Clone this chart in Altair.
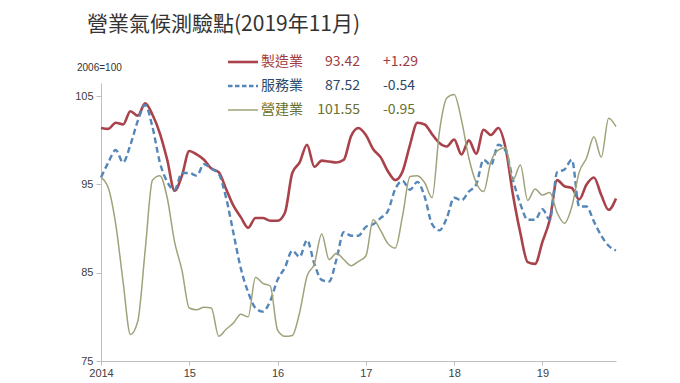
import altair as alt
import pandas as pd

# ---------------- data ----------------
month_index = list(range(71))  # Jan 2014 .. Nov 2019
manufacturing = [101.4, 101.3, 102.0, 101.8, 103.3, 102.8, 104.2, 102.9, 100.8, 97.8,
                 94.3, 96.0, 98.8, 98.4, 97.8, 96.8, 96.4, 94.5, 92.6, 91.3,
                 90.1, 91.2, 91.2, 90.9, 90.9, 91.8, 96.3, 97.5, 99.5, 97.0,
                 97.7, 97.6, 97.5, 97.8, 100.5, 101.4, 100.6, 99.0, 98.1, 96.5,
                 95.5, 96.5, 99.5, 102.0, 101.8, 100.7, 99.7, 99.3, 100.1, 98.4,
                 100.0, 98.5, 101.2, 100.6, 101.4, 99.1, 93.8, 89.5, 86.2, 86.0,
                 88.5, 91.0, 95.5, 94.8, 94.6, 93.3, 95.0, 95.8, 93.8, 92.13, 93.42]
services = [95.8, 97.5, 98.9, 97.5, 99.5, 102.2, 104.0, 101.5, 97.5, 95.3,
            94.4, 96.3, 96.3, 96.0, 97.3, 96.8, 96.2, 93.5, 89.5, 85.5,
            82.8, 81.0, 80.6, 81.8, 84.2, 85.6, 87.5, 86.8, 88.7, 86.0,
            84.2, 84.0, 86.5, 89.6, 89.2, 89.2, 90.2, 90.5, 91.2, 92.0,
            94.5, 95.4, 94.4, 95.3, 93.6, 90.5, 89.8, 91.2, 93.5, 93.2,
            94.2, 95.0, 97.8, 97.2, 99.5, 98.8, 95.5, 92.8, 91.0, 91.0,
            92.2, 91.0, 96.4, 96.7, 97.8, 92.5, 92.5, 90.8, 89.2, 88.06, 87.52]
construction = [95.8, 94.6, 90.5, 84.0, 78.0, 79.5, 87.5, 95.5, 96.0, 93.5,
                88.5, 85.3, 81.0, 80.8, 81.1, 81.0, 77.8, 78.6, 79.3, 80.3,
                80.0, 84.5, 83.8, 83.5, 78.5, 77.8, 77.9, 80.5, 84.6, 86.0,
                89.4, 86.5, 87.2, 86.5, 85.8, 86.3, 86.9, 91.0, 89.8, 88.3,
                87.8, 91.5, 95.9, 96.0, 95.2, 93.5, 101.0, 104.8, 105.2, 102.3,
                98.0, 95.2, 94.2, 97.6, 98.9, 99.2, 95.5, 97.2, 93.2, 94.5,
                93.8, 94.1, 91.8, 90.6, 92.5, 96.4, 98.0, 100.4, 98.1, 102.5, 101.55]

series_names = ["製造業", "服務業", "營建業"]
latest_values = ["93.42", "87.52", "101.55"]
changes = ["+1.29", "-0.54", "-0.95"]
year_tick_months = [0, 12, 24, 36, 48, 60]
y_ticks = [75, 85, 95, 105]
title_text = "營業氣候測驗點(2019年11月)"
base_note = "2006=100"

# ---------------- styles ----------------
line_colors = ["#A9424A", "#5586B8", "#9FA27A"]
text_colors = ["#9E3A40", "#2B4A6A", "#68702F"]
line_widths = [2.6, 2.4, 1.5]
line_dashes = [None, [6, 3.5], None]

CJK = "Noto Sans CJK TC"
LAT = "Liberation Sans"

df = pd.DataFrame({
    "m": month_index * 3,
    "v": manufacturing + services + construction,
    "s": [series_names[0]] * 71 + [series_names[1]] * 71 + [series_names[2]] * 71,
})

x_enc = alt.X(
    "m:Q",
    scale=alt.Scale(domain=[0, 70], nice=False, zero=False),
    axis=alt.Axis(values=year_tick_months, title=None, grid=False,
                  labelExpr="datum.value == 0 ? '2014' : toString(14 + datum.value / 12)",
                  domainColor="#BFBFBF", tickColor="#BFBFBF", tickSize=4,
                  labelPadding=2, labelFont=LAT, labelFontSize=11, labelColor="#404040",
                  labelFlush=False),
)
y_enc = alt.Y(
    "v:Q",
    scale=alt.Scale(domain=[75, 106.5], nice=False, zero=False),
    axis=alt.Axis(values=y_ticks, title=None, grid=False,
                  domainColor="#BFBFBF", tickColor="#BFBFBF", tickSize=5,
                  labelPadding=3, labelFont=LAT, labelFontSize=11, labelColor="#404040"),
)

layers = []
for name, col, w, d in zip(series_names, line_colors, line_widths, line_dashes):
    kw = dict(interpolate="monotone", color=col, strokeWidth=w)
    if d is not None:
        kw["strokeDash"] = d
    layers.append(
        alt.Chart(df).transform_filter(alt.datum.s == name).mark_line(**kw).encode(x=x_enc, y=y_enc)
    )

# title and base note
layers.append(
    alt.Chart(pd.DataFrame({"t": [title_text]})).mark_text(
        align="left", baseline="middle", font=CJK, fontSize=21, color="#333333"
    ).encode(text="t:N", x=alt.value(-14), y=alt.value(-58))
)
layers.append(
    alt.Chart(pd.DataFrame({"t": [base_note]})).mark_text(
        align="left", baseline="middle", font=LAT, fontSize=10, color="#333333"
    ).encode(text="t:N", x=alt.value(-24), y=alt.value(-15))
)

# legend rows
row_y = [-21, 3, 27]
for k in range(3):
    rkw = dict(color=line_colors[k], strokeWidth=line_widths[k])
    if line_dashes[k] is not None:
        rkw["strokeDash"] = [4.5, 2.5]
    layers.append(
        alt.Chart(pd.DataFrame({"a": [0]})).mark_rule(**rkw).encode(
            x=alt.value(127), x2=alt.value(157), y=alt.value(row_y[k]))
    )
    lab = pd.DataFrame({"n": [series_names[k]], "val": [latest_values[k]], "chg": [changes[k]]})
    layers.append(
        alt.Chart(lab).mark_text(align="left", baseline="middle", font=CJK, fontSize=14,
                                 color=text_colors[k]).encode(
            text="n:N", x=alt.value(160), y=alt.value(row_y[k]))
    )
    layers.append(
        alt.Chart(lab).mark_text(align="right", baseline="middle", font=CJK, fontSize=14,
                                 color=text_colors[k]).encode(
            text="val:N", x=alt.value(259), y=alt.value(row_y[k]))
    )
    layers.append(
        alt.Chart(lab).mark_text(align="left", baseline="middle", font=CJK, fontSize=14,
                                 color=text_colors[k]).encode(
            text="chg:N", x=alt.value(282), y=alt.value(row_y[k]))
    )

chart = alt.layer(*layers).properties(
    width=515, height=278,
    padding={"left": 93, "top": 75, "right": 56, "bottom": 22},
    autosize=alt.AutoSizeParams(type="none"),
    background="white",
).configure_view(stroke=None)

chart.save("out.html", embed_options={"renderer": "svg", "actions": False})
